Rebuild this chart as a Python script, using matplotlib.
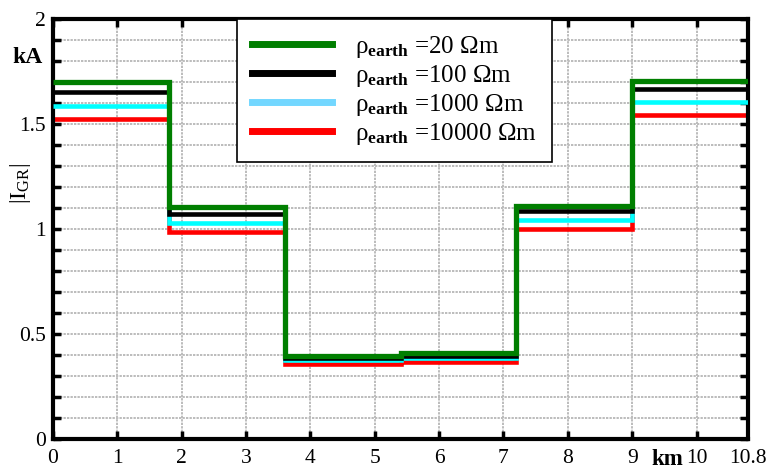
import matplotlib
matplotlib.use("Agg")
import matplotlib.pyplot as plt
from matplotlib.lines import Line2D
import numpy as np

plt.rcParams['font.family'] = ['Liberation Serif', 'DejaVu Serif']
plt.rcParams['mathtext.fontset'] = 'custom'
plt.rcParams['mathtext.rm'] = 'Liberation Serif'
plt.rcParams['mathtext.bf'] = 'Liberation Serif:bold'
plt.rcParams['mathtext.it'] = 'Liberation Serif:italic'

# Section boundaries along the line (km)
edges = [0, 1.8, 3.6, 5.4, 7.2, 9.0, 10.8]

# Ground-return current magnitude per section (kA)
i_20 = [1.70, 1.106, 0.397, 0.408, 1.111, 1.703]
i_100 = [1.652, 1.070, 0.386, 0.397, 1.086, 1.665]
i_1000 = [1.586, 1.027, 0.376, 0.386, 1.043, 1.603]
i_10000 = [1.524, 0.987, 0.356, 0.367, 1.000, 1.541]

labels = ['ρ$_{\\mathbf{earth}}$ =20 Ωm',
          'ρ$_{\\mathbf{earth}}$ =100 Ωm',
          'ρ$_{\\mathbf{earth}}$ =1000 Ωm',
          'ρ$_{\\mathbf{earth}}$ =10000 Ωm']

x_ticks = [0, 1, 2, 3, 4, 5, 6, 7, 8, 9, 10, 10.8]
x_ticklabels = ['0', '1', '2', '3', '4', '5', '6', '7', '8', '9', '10', '10.8']
y_major = [0, 0.5, 1, 1.5, 2]
y_major_labels = ['0', '0.5', '1', '1.5', '2']

fig = plt.figure(figsize=(7.68, 4.70), dpi=100)
ax = fig.add_axes([0.069, 0.066, 0.905, 0.894])

series = [(i_10000, '#ff0000', 3.3, 2),
          (i_1000, '#00ffff', 3.3, 3),
          (i_100, '#000000', 3.3, 4),
          (i_20, '#007f00', 3.8, 5)]
for vals, col, lw, z in series:
    ax.stairs(vals, edges, baseline=None, color=col, lw=lw, zorder=z)

ax.set_xlim(0, 10.8)
ax.set_ylim(0, 2)

# grid: every km and every 0.1 kA
grid_kw = dict(color='#bcbcbc', lw=1.4, ls=(0, (1.2, 0.6)), zorder=0)
for gx in np.arange(1, 11, 1):
    ax.axvline(gx, **grid_kw)
for gy in np.arange(0.1, 2.0, 0.1):
    ax.axhline(gy, **grid_kw)

ax.set_yticks(np.arange(0, 2.01, 0.1), minor=True)
ax.set_xticks(x_ticks)
ax.set_xticklabels(x_ticklabels)
ax.set_yticks(y_major)
ax.set_yticklabels(y_major_labels)

ax.tick_params(which='both', direction='in', length=6, width=2.5, top=True, right=True,
               labelsize=15.5, color='black')
ax.tick_params(axis='x', which='major', pad=7)
ax.tick_params(axis='y', which='major', pad=5)
# no tick mark at the end of the axis
ax.xaxis.get_major_ticks()[-1].tick1line.set_visible(False)
ax.xaxis.get_major_ticks()[-1].tick2line.set_visible(False)

for s in ax.spines.values():
    s.set_linewidth(3)

# unit labels
fig.text(0.016, 0.877, 'kA', fontsize=17, fontweight='bold', ha='left', va='center')
fig.text(0.027, 0.61, '|I$_{\\mathrm{GR}}$|', fontsize=17, rotation=90, ha='center', va='center')
ax.text(9.55, -0.098, 'km', fontsize=16.5, fontweight='bold', ha='center', va='center')

handles = [Line2D([], [], color='#007f00', lw=5),
           Line2D([], [], color='#000000', lw=5),
           Line2D([], [], color='#73d7ff', lw=5),
           Line2D([], [], color='#ff0000', lw=5)]
leg = ax.legend(handles, labels, loc='upper left', bbox_to_anchor=(0.265, 1.0),
                fontsize=18, frameon=True, fancybox=False, framealpha=1,
                edgecolor='black', handlelength=3.2, handletextpad=0.9,
                borderpad=0.6, labelspacing=0.12, borderaxespad=0)
leg.get_frame().set_linewidth(1.2)
leg.set_zorder(10)

fig.savefig('out.png', dpi=100)
